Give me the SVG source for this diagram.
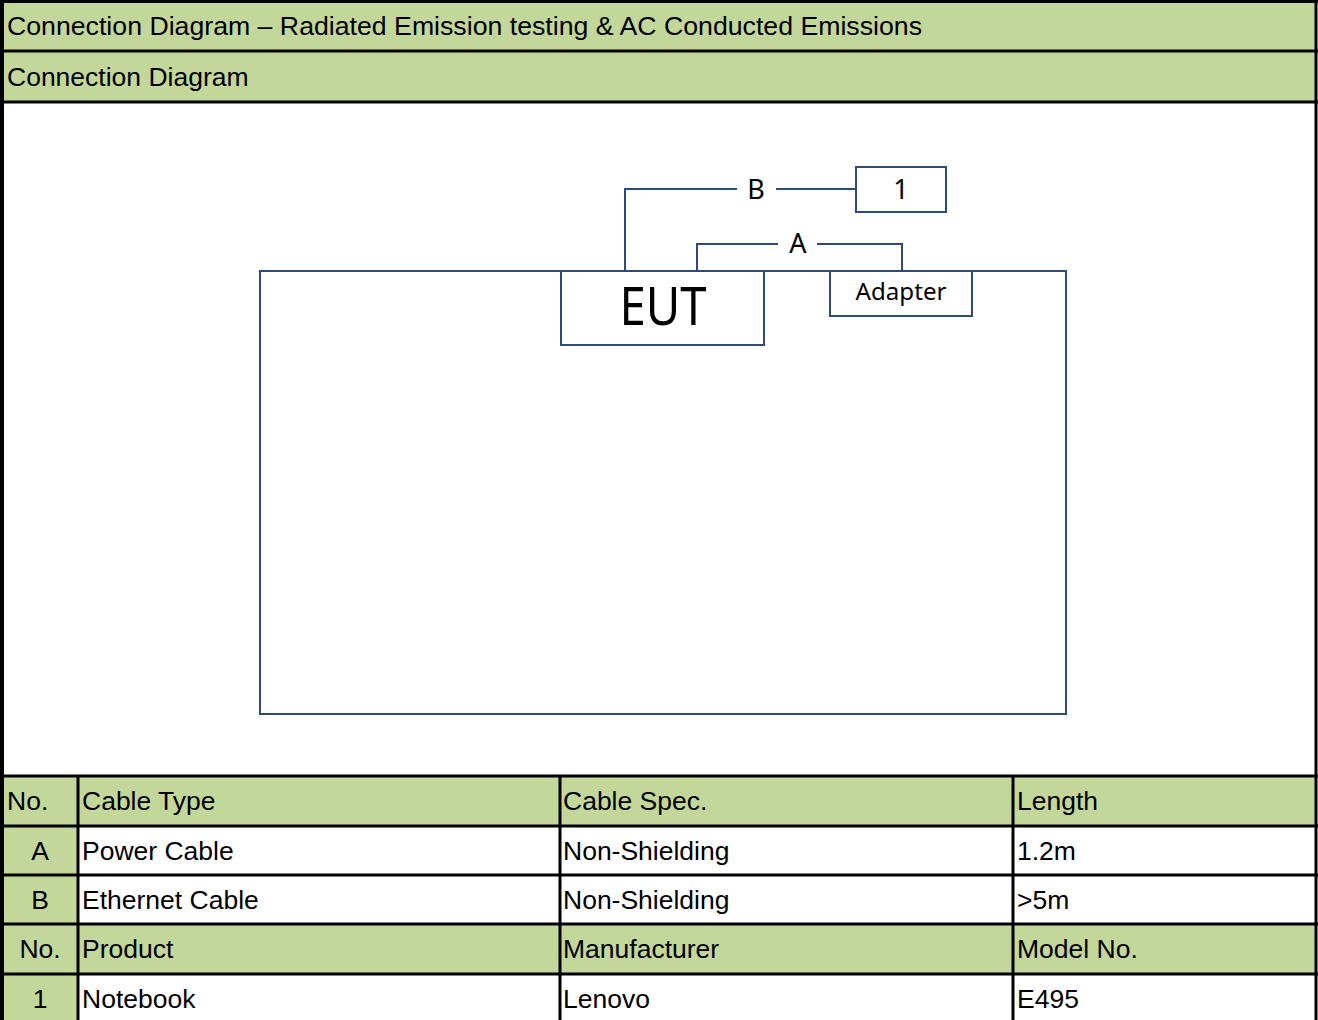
<svg xmlns="http://www.w3.org/2000/svg" width="1318" height="1020" viewBox="0 0 1318 1020">
<style>
.g{fill:#C4D79B}
.t{font-family:"Liberation Sans",Arial,sans-serif;font-size:26.5px;fill:#000}
.c{text-anchor:middle}
.gl{stroke:#000;stroke-width:3;fill:none}
.d{stroke:#2F4B7C;stroke-width:2;fill:none}
.df{stroke:#2F4B7C;stroke-width:2;fill:#fff}
.dt{font-family:"Noto Sans","Open Sans","DejaVu Sans",sans-serif;fill:#000;text-anchor:middle}
</style>
<rect width="1318" height="1020" fill="#fff"/>
<g id="header">
<rect class="g" x="2" y="1" width="1314" height="101"/>
<text class="t" x="7" y="35" textLength="915" lengthAdjust="spacingAndGlyphs">Connection Diagram – Radiated Emission testing &amp; AC Conducted Emissions</text>
<text class="t" x="7" y="86">Connection Diagram</text>
</g>
<g id="table">
<rect class="g" x="2" y="776" width="1314" height="50"/>
<rect class="g" x="2" y="826" width="76" height="98"/>
<rect class="g" x="2" y="924" width="1314" height="50"/>
<rect class="g" x="2" y="974" width="76" height="46"/>
<text class="t" x="7" y="810">No.</text>
<text class="t" x="82" y="810">Cable Type</text>
<text class="t" x="563" y="810">Cable Spec.</text>
<text class="t" x="1017" y="810">Length</text>
<text class="t c" x="40" y="860">A</text>
<text class="t" x="82" y="860">Power Cable</text>
<text class="t" x="563" y="860">Non-Shielding</text>
<text class="t" x="1017" y="860">1.2m</text>
<text class="t c" x="40" y="909">B</text>
<text class="t" x="82" y="909">Ethernet Cable</text>
<text class="t" x="563" y="909">Non-Shielding</text>
<text class="t" x="1017" y="909">&gt;5m</text>
<text class="t c" x="40" y="958">No.</text>
<text class="t" x="82" y="958">Product</text>
<text class="t" x="563" y="958">Manufacturer</text>
<text class="t" x="1017" y="958">Model No.</text>
<text class="t c" x="40" y="1008">1</text>
<text class="t" x="82" y="1008">Notebook</text>
<text class="t" x="563" y="1008">Lenovo</text>
<text class="t" x="1017" y="1008">E495</text>
</g>
<g id="grid">
<line class="gl" x1="0" y1="1.5" x2="1318" y2="1.5"/>
<line class="gl" x1="0" y1="51" x2="1318" y2="51"/>
<line class="gl" x1="0" y1="102" x2="1318" y2="102"/>
<line class="gl" x1="0" y1="776" x2="1318" y2="776"/>
<line class="gl" x1="0" y1="826" x2="1318" y2="826"/>
<line class="gl" x1="0" y1="875" x2="1318" y2="875"/>
<line class="gl" x1="0" y1="924" x2="1318" y2="924"/>
<line class="gl" x1="0" y1="974" x2="1318" y2="974"/>
<line class="gl" x1="78" y1="776" x2="78" y2="1020"/>
<line class="gl" x1="560" y1="776" x2="560" y2="1020"/>
<line class="gl" x1="1013" y1="776" x2="1013" y2="1020"/>
<line stroke="#000" stroke-width="4" x1="2" y1="0" x2="2" y2="1020"/>
<line class="gl" x1="1316" y1="0" x2="1316" y2="1020"/>
</g>
<g id="area"><rect class="d" x="260" y="271" width="806" height="443"/></g>
<g id="connectors">
<polyline class="d" points="625,271 625,189 737,189"/>
<line class="d" x1="776" y1="189" x2="856" y2="189"/>
<polyline class="d" points="697,271 697,244 778,244"/>
<polyline class="d" points="817,244 902,244 902,271"/>
<text class="dt" x="756" y="199" font-size="27">B</text>
<text class="dt" x="798" y="253" font-size="27">A</text>
</g>
<g id="eut">
<rect class="df" x="561" y="271" width="203" height="74"/>
<text class="dt" x="663" y="325" font-size="52" textLength="87" lengthAdjust="spacingAndGlyphs">EUT</text>
</g>
<g id="adapter">
<rect class="df" x="830" y="271" width="142" height="45"/>
<text class="dt" x="901" y="300" font-size="24" textLength="91" lengthAdjust="spacingAndGlyphs">Adapter</text>
</g>
<g id="device1">
<rect class="df" x="856" y="167" width="90" height="45"/>
<text class="dt" x="901" y="199" font-size="27">1</text>
</g>
</svg>
